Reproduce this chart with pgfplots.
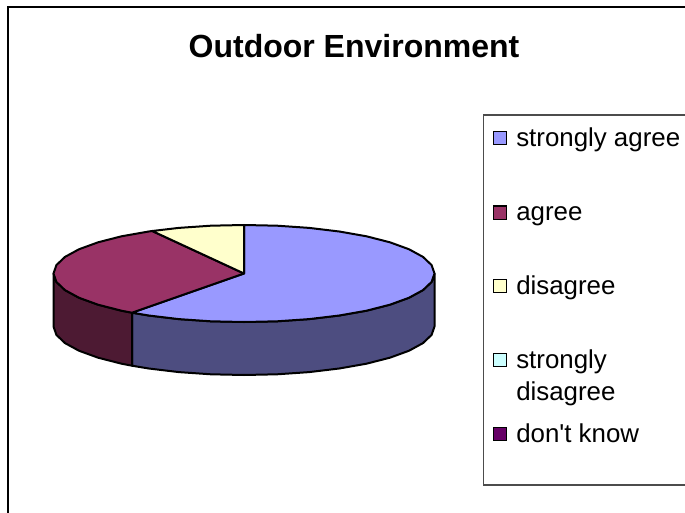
\documentclass[border=0pt]{standalone}
\usepackage{fontspec}
\setmainfont{Liberation Sans}[Ligatures=TeXOff]
\usepackage{pgfplots}
\pgfplotsset{compat=1.18}
\definecolor{cBlue}{HTML}{9999FF}
\definecolor{cMaroon}{HTML}{993366}
\definecolor{cCream}{HTML}{FFFFCC}
\definecolor{cCyan}{HTML}{CCFFFF}
\definecolor{cPurple}{HTML}{660066}
\definecolor{cBlueD}{HTML}{4D4D80}
\definecolor{cMaroonD}{HTML}{4D1A33}
\pgfplotsset{
  slice/.style={draw=black, line width=1.5pt, line join=round, mark=none},
  swatch/.style={only marks, mark=square*, mark size=5pt, mark options={draw=black, line width=1.2pt, fill=#1}},
}
\begin{document}
\begin{tikzpicture}
\begin{axis}[
  hide axis, scale only axis, width=513.75pt, height=384.75pt,
  xmin=0, xmax=685, ymin=0, ymax=513, y dir=reverse,
]
% page background, fixes the picture's extent
\addplot[draw=none, fill=white, forget plot, mark=none] coordinates {(0,0) (685,0) (685,513) (0,513)} --cycle;
% chart frame
\addplot[black, line width=1.8pt, forget plot, mark=none] coordinates {(8,513) (8,7) (685,7)};
% legend frame
\addplot[black!70, line width=0.8pt, forget plot, mark=none] coordinates {(685,115) (483.5,115) (483.5,485) (685,485)};
% side walls
\addplot[slice, fill=cBlueD] coordinates {
 (434.5,273.5) (431.6,281.9) (423,290.1) (409,297.75) (389.9,304.7) (366.5,310.7) (339.25,315.5) (309.2,319.1) (277.1,321.3) (244,322)
 (210.9,321.3) (178.8,319.1) (148.75,315.5) (132,312.7)
 (132,365.7) (148.75,368.5) (178.8,372.1) (210.9,374.3) (244,375)
 (277.1,374.3) (309.2,372.1) (339.25,368.5) (366.5,363.7) (389.9,357.7) (409,350.75) (423,343.1) (431.6,334.9) (434.5,326.5)} --cycle;
\addplot[slice, fill=cMaroonD] coordinates {
 (132,312.7) (121.5,310.7) (98.1,304.7) (79,297.75) (65,290.1) (56.4,281.9) (53.5,273.5)
 (53.5,326.5) (56.4,334.9) (65,343.1) (79,350.75) (98.1,357.7) (121.5,363.7) (132,365.7)} --cycle;
% top slices
\addplot[slice, fill=cBlue] coordinates {
 (244,273.5) (244,225) (277.1,225.7) (309.2,227.9) (339.25,231.5) (366.5,236.3) (389.9,242.3) (409,249.25) (423,256.9) (431.6,265.1) (434.5,273.5)
 (431.6,281.9) (423,290.1) (409,297.75) (389.9,304.7) (366.5,310.7) (339.25,315.5) (309.2,319.1) (277.1,321.3) (244,322)
 (210.9,321.3) (178.8,319.1) (148.75,315.5) (132,312.7)} --cycle;
\addplot[slice, fill=cMaroon] coordinates {
 (244,273.5) (132,312.7) (121.5,310.7) (98.1,304.7) (79,297.75) (65,290.1) (56.4,281.9) (53.5,273.5)
 (56.4,265.1) (65,256.9) (79,249.25) (98.1,242.3) (121.5,236.3) (148.75,231.5) (152.2,231)} --cycle;
\addplot[slice, fill=cCream] coordinates {
 (244,273.5) (152.2,231) (178.8,227.9) (210.9,225.7) (244,225)} --cycle;
% legend swatches
\addplot[swatch=cBlue] coordinates {(500,138)};
\addplot[swatch=cMaroon] coordinates {(500,212.7)};
\addplot[swatch=cCream] coordinates {(500,286)};
\addplot[swatch=cCyan] coordinates {(500,360)};
\addplot[swatch=cPurple] coordinates {(500,434)};
% texts
\node[anchor=base, font=\fontsize{24}{28}\selectfont\bfseries, inner sep=0pt] at (axis cs:354,58) {Outdoor Environment};
\begin{scope}[every node/.style={anchor=base west, inner sep=0pt, font=\fontsize{19.4}{23}\selectfont}]
\node at (axis cs:516,146.5) {strongly agree};
\node at (axis cs:516,220.5) {agree};
\node at (axis cs:516,294) {disagree};
\node at (axis cs:516,368) {strongly};
\node at (axis cs:516,400.5) {disagree};
\node at (axis cs:516,442) {don't know};
\end{scope}
\end{axis}
\end{tikzpicture}
\end{document}
